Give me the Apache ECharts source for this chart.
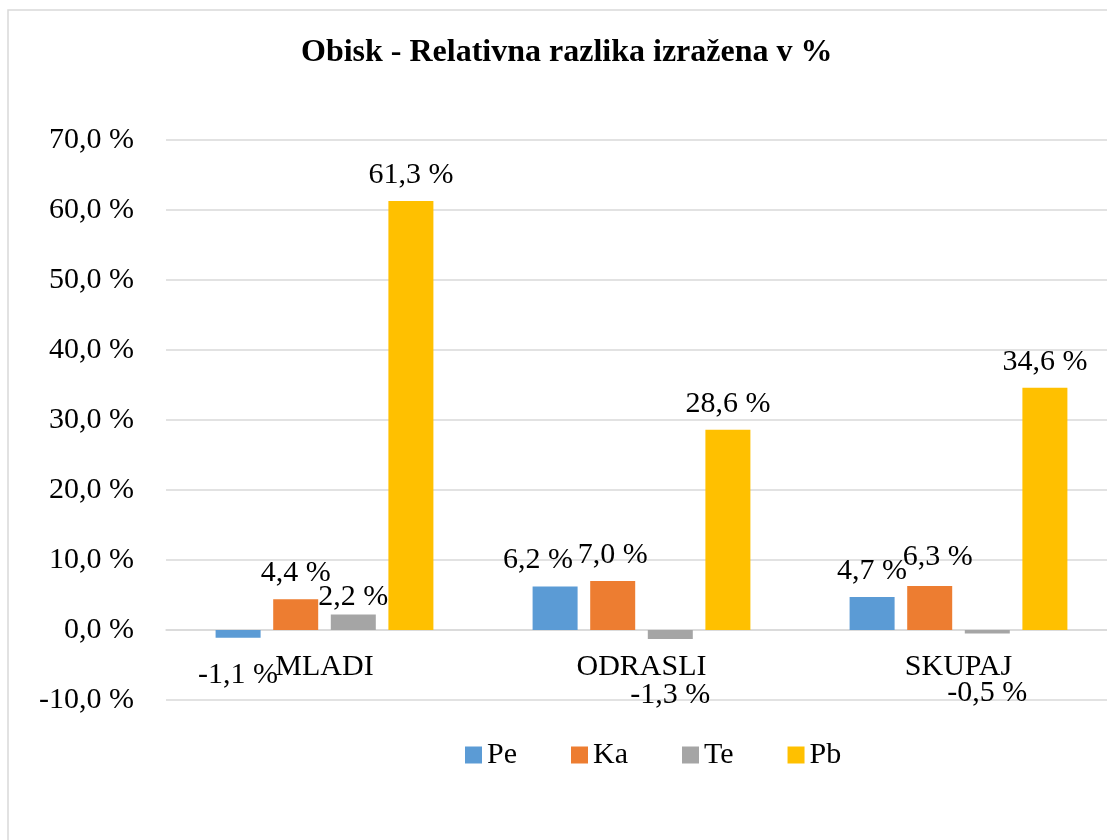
<!DOCTYPE html>
<html>
<head>
<meta charset="utf-8">
<script src="https://cdn.jsdelivr.net/npm/echarts@6/dist/echarts.min.js"></script>
<style>
html,body{margin:0;padding:0;background:#fff;overflow:hidden;width:1107px;height:840px;}
#chart{width:1130px;height:840px;}
</style>
</head>
<body>
<div id="chart"></div>
<script>
var titleText = 'Obisk - Relativna razlika izražena v %';
var categories = ['MLADI', 'ODRASLI', 'SKUPAJ'];
var seriesNames = ['Pe', 'Ka', 'Te', 'Pb'];
var pe = [-1.1, 6.2, 4.7];
var ka = [4.4, 7.0, 6.3];
var te = [2.2, -1.3, -0.5];
var pb = [61.3, 28.6, 34.6];
var yMin = -10, yMax = 70, yStep = 10;

var colors = ['#5B9BD5', '#ED7D31', '#A5A5A5', '#FFC000'];
var FONT = '"Liberation Serif", "Times New Roman", serif';

function fmt(v) { return v.toFixed(1).replace('.', ',') + ' %'; }

var allData = [pe, ka, te, pb];

// label placement nudges (series index, category index) -> label style
function labelStyle(v, si, ci) {
  if (v < 0) {
    return { position: 'bottom', distance: (si === 0 && ci === 0) ? 22 : (ci === 2 ? 45 : 41) };
  }
  if (si === 2 && ci === 0) return { distance: 2 };
  if (si === 0 && ci === 1) return { offset: [-17, 0] };
  if (si === 1 && ci === 2) return { offset: [8, 0], distance: 14 };
  return null;
}

function buildData(arr, si) {
  return arr.map(function (v, ci) {
    var item = { value: v };
    var ls = labelStyle(v, si, ci);
    if (ls) item.label = ls;
    return item;
  });
}

var series = seriesNames.map(function (name, si) {
  return {
    name: name,
    type: 'bar',
    barWidth: 45,
    barGap: '28%',
    itemStyle: { color: colors[si] },
    label: {
      show: true,
      position: 'top',
      distance: 11,
      fontFamily: FONT,
      fontSize: 30,
      color: '#000',
      formatter: function (p) { return fmt(p.value); }
    },
    data: buildData(allData[si], si)
  };
});

var chart = echarts.init(document.getElementById('chart'));
chart.setOption({
  animation: false,
  backgroundColor: '#fff',
  graphic: [{
    type: 'rect',
    shape: { x: 8, y: 10, width: 1300, height: 1000 },
    style: { fill: 'none', stroke: '#d9d9d9', lineWidth: 1.5 },
    z: -1
  }],
  title: {
    text: titleText,
    left: 296,
    top: 32,
    textStyle: { fontFamily: FONT, fontSize: 32, fontWeight: 'bold', color: '#000' }
  },
  legend: {
    data: seriesNames,
    left: 460,
    top: 735,
    itemWidth: 17,
    itemHeight: 17,
    itemGap: 54,
    icon: 'rect',
    textStyle: { fontFamily: FONT, fontSize: 30, color: '#000' }
  },
  grid: { left: 166, top: 140, width: 951, height: 560, containLabel: false },
  xAxis: {
    type: 'category',
    data: categories,
    offset: -70,
    axisLine: { show: true, onZero: false, lineStyle: { color: '#d9d9d9', width: 1.5 } },
    axisTick: { show: false },
    axisLabel: { fontFamily: FONT, fontSize: 30, color: '#000', margin: 22 },
    splitLine: { show: false }
  },
  yAxis: {
    type: 'value',
    min: yMin,
    max: yMax,
    interval: yStep,
    axisLine: { show: false },
    axisTick: { show: false },
    axisLabel: { fontFamily: FONT, fontSize: 30, color: '#000', margin: 32, formatter: function (v) { return fmt(v); } },
    splitLine: { lineStyle: { color: '#d9d9d9', width: 1.5 } }
  },
  series: series
});
</script>
</body>
</html>
